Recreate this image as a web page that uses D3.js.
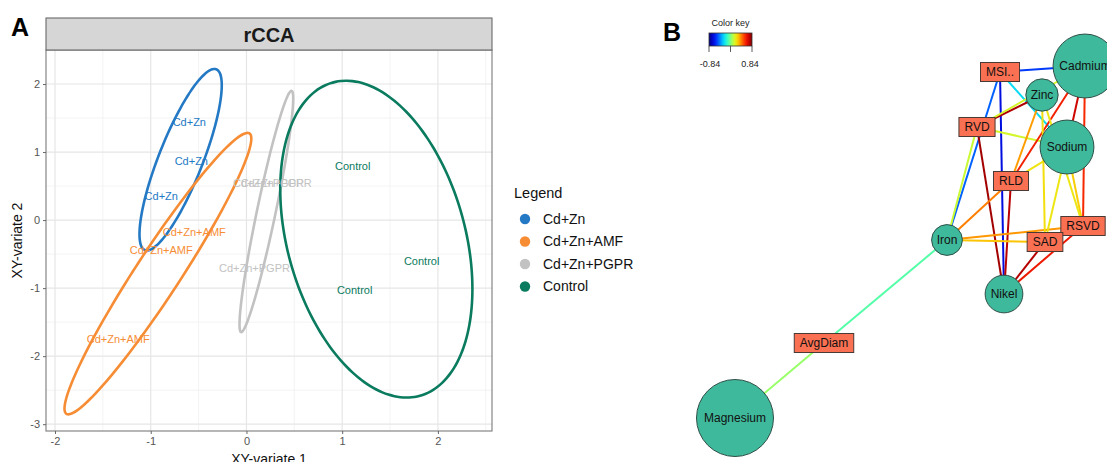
<!DOCTYPE html>
<html>
<head>
<meta charset="utf-8">
<script src="https://cdn.jsdelivr.net/npm/d3@7"></script>
<style>
  body { margin: 0; background: #fff; }
  svg { display: block; font-family: "Liberation Sans", Arial, sans-serif; }
</style>
</head>
<body>
<svg id="chart" width="1107" height="462"></svg>
<script>
// ---- panel A data (rCCA sample plot) ----
const groups = ["Cd+Zn", "Cd+Zn+AMF", "Cd+Zn+PGPR", "Control"];
const groupColors = ["#2479c5", "#f68d35", "#c2c2c2", "#0a7b5e"];
const sampleGroup = ["Cd+Zn", "Cd+Zn", "Cd+Zn",
  "Cd+Zn+AMF", "Cd+Zn+AMF", "Cd+Zn+AMF",
  "Cd+Zn+PGPR", "Cd+Zn+PGPR", "Cd+Zn+PGPR",
  "Control", "Control", "Control"];
const sampleX = [-0.597, -0.576, -0.89, -0.545, -0.89, -1.34, 0.23, 0.31, 0.084, 1.11, 1.83, 1.13];
const sampleY = [1.44, 0.87, 0.35, -0.17, -0.44, -1.75, 0.55, 0.54, -0.71, 0.79, -0.60, -1.03];
const xTicks = [-2, -1, 0, 1, 2];
const yTicks = [-3, -2, -1, 0, 1, 2];
const ellipseLevel = 0.95;

// ---- panel B data (relevance network) ----
const nodeNames = ["Cadmium", "Zinc", "Sodium", "Iron", "Nikel", "Magnesium",
  "MSI..", "RVD", "RLD", "RSVD", "SAD", "AvgDiam"];
const nodeType = ["X", "X", "X", "X", "X", "X", "Y", "Y", "Y", "Y", "Y", "Y"];
const nodeWeight = [0.83, 0.42, 0.70, 0.40, 0.49, 1.0, 0, 0, 0, 0, 0, 0];
// layout coordinates (0-100 layout space)
const layoutX = [96.25, 85.5, 91.75, 61.75, 76, 8.75, 75, 69.25, 77.75, 95.75, 86.25, 31];
const layoutY = [9, 16.25, 29.25, 52.5, 66, 97, 10.5, 24.25, 37.75, 49, 53, 78.25];
const edgeFrom = ["AvgDiam", "AvgDiam", "MSI..", "MSI..", "MSI..", "MSI..",
  "RVD", "RVD", "RVD", "RVD", "RVD",
  "RLD", "RLD", "RLD", "RLD", "RLD",
  "RSVD", "RSVD", "RSVD", "RSVD", "RSVD",
  "SAD", "SAD", "SAD", "SAD", "Cadmium"];
const edgeTo = ["Iron", "Magnesium", "Iron", "Cadmium", "Sodium", "Nikel",
  "Iron", "Zinc", "Cadmium", "Sodium", "Nikel",
  "Zinc", "Cadmium", "Sodium", "Iron", "Nikel",
  "Cadmium", "Sodium", "Zinc", "Iron", "Nikel",
  "Zinc", "Sodium", "Iron", "Nikel", "Sodium"];
const edgeValue = [-0.07, 0.04, -0.47, -0.54, -0.25, -0.66,
  0.13, 0.76, 0.15, 0.15, 0.78,
  0.37, 0.60, 0.23, 0.42, 0.74,
  0.58, 0.28, 0.22, 0.38, 0.62,
  0.24, 0.22, 0.30, 0.75, 0.70];
const keyRange = [-0.84, 0.84];

var svg = d3.select("#chart");

// ================= Panel A =================
const pLeft = 46, pRight = 492, pTop = 50, pBottom = 431;
var x = d3.scaleLinear().domain([-2.094, 2.565]).range([pLeft, pRight]);
var y = d3.scaleLinear().domain([-3.1, 2.5]).range([pBottom, pTop]);
var color = d3.scaleOrdinal().domain(groups).range(groupColors);

svg.append("text").text("A")
  .attr("x", 11).attr("y", 36)
  .attr("font-size", 25).attr("font-weight", "bold");

var panel = svg.append("g");
panel.append("rect")
  .attr("x", pLeft).attr("y", pTop).attr("width", pRight - pLeft).attr("height", pBottom - pTop)
  .attr("fill", "#fff");

// minor grid then major grid
var minorX = d3.range(-2.5, 3, 1).filter(v => x(v) > pLeft && x(v) < pRight);
var minorY = d3.range(-2.5, 3, 1).filter(v => y(v) < pBottom && y(v) > pTop);
panel.selectAll(".mgx").data(minorX).join("line")
  .attr("x1", d => x(d)).attr("x2", d => x(d)).attr("y1", pTop).attr("y2", pBottom)
  .attr("stroke", "#f0f0f0").attr("stroke-width", 0.8);
panel.selectAll(".mgy").data(minorY).join("line")
  .attr("y1", d => y(d)).attr("y2", d => y(d)).attr("x1", pLeft).attr("x2", pRight)
  .attr("stroke", "#f0f0f0").attr("stroke-width", 0.8);
panel.selectAll(".gx").data(xTicks).join("line")
  .attr("x1", d => x(d)).attr("x2", d => x(d)).attr("y1", pTop).attr("y2", pBottom)
  .attr("stroke", "#e6e6e6").attr("stroke-width", 1.2);
panel.selectAll(".gy").data(yTicks).join("line")
  .attr("y1", d => y(d)).attr("y2", d => y(d)).attr("x1", pLeft).attr("x2", pRight)
  .attr("stroke", "#e6e6e6").attr("stroke-width", 1.2);

// confidence ellipses (same as mixOmics: chi-square 95%, from the sample covariance)
const radius = Math.sqrt(-2 * Math.log(1 - ellipseLevel));
function ellipse(pts) {
  const n = pts.length;
  const mx = d3.mean(pts, p => p[0]), my = d3.mean(pts, p => p[1]);
  let sxx = 0, syy = 0, sxy = 0;
  pts.forEach(p => {
    sxx += (p[0] - mx) * (p[0] - mx);
    syy += (p[1] - my) * (p[1] - my);
    sxy += (p[0] - mx) * (p[1] - my);
  });
  sxx /= (n - 1); syy /= (n - 1); sxy /= (n - 1);
  // cholesky of the 2x2 covariance
  const a = Math.sqrt(sxx), b = sxy / a, c = Math.sqrt(Math.max(syy - b * b, 0));
  return d3.range(0, 100).map(i => {
    const t = i / 100 * 2 * Math.PI;
    const u = Math.cos(t) * radius, v = Math.sin(t) * radius;
    return [mx + a * u, my + b * u + c * v];
  });
}

var samples = sampleX.map((d, i) => ({ x: d, y: sampleY[i], group: sampleGroup[i] }));
var ellLine = d3.line().x(d => x(d[0])).y(d => y(d[1])).curve(d3.curveCardinalClosed);

var clip = svg.append("clipPath").attr("id", "clipA");
clip.append("rect").attr("x", pLeft).attr("y", pTop).attr("width", pRight - pLeft).attr("height", pBottom - pTop);

var plotG = panel.append("g").attr("clip-path", "url(#clipA)");
plotG.selectAll(".ell").data(groups).join("path")
  .attr("d", g => ellLine(ellipse(samples.filter(s => s.group === g).map(s => [s.x, s.y]))))
  .attr("fill", "none")
  .attr("stroke", g => color(g))
  .attr("stroke-width", 2.6);

plotG.selectAll(".lab").data(samples).join("text")
  .text(d => d.group)
  .attr("x", d => x(d.x)).attr("y", d => y(d.y))
  .attr("text-anchor", "middle").attr("dy", "0.35em")
  .attr("font-size", 11)
  .attr("fill", d => color(d.group));

// panel border
panel.append("rect")
  .attr("x", pLeft).attr("y", pTop).attr("width", pRight - pLeft).attr("height", pBottom - pTop)
  .attr("fill", "none").attr("stroke", "#7a7a7a").attr("stroke-width", 1.1);

// strip
svg.append("rect")
  .attr("x", pLeft).attr("y", 18).attr("width", pRight - pLeft).attr("height", pTop - 18)
  .attr("fill", "#d6d6d6").attr("stroke", "#6a6a6a").attr("stroke-width", 1.1);
svg.append("text").text("rCCA")
  .attr("x", (pLeft + pRight) / 2).attr("y", 35)
  .attr("text-anchor", "middle").attr("dy", "0.35em")
  .attr("font-size", 20).attr("font-weight", "bold").attr("fill", "#1a1a1a");

// axes
var xAxis = svg.append("g").attr("transform", "translate(0," + pBottom + ")")
  .call(d3.axisBottom(x).tickValues(xTicks).tickSize(3).tickPadding(3).tickFormat(d => String(d)));
var yAxis = svg.append("g").attr("transform", "translate(" + pLeft + ",0)")
  .call(d3.axisLeft(y).tickValues(yTicks).tickSize(3).tickPadding(3).tickFormat(d => String(d)));
[xAxis, yAxis].forEach(a => {
  a.select(".domain").remove();
  a.selectAll(".tick line").attr("stroke", "#666");
  a.selectAll(".tick text").attr("fill", "#555").attr("font-size", 11)
    .attr("font-family", "Liberation Sans, Arial, sans-serif");
});

svg.append("text").text("XY-variate 1")
  .attr("x", (pLeft + pRight) / 2).attr("y", 464)
  .attr("text-anchor", "middle").attr("font-size", 14).attr("fill", "#111");
svg.append("text").text("XY-variate 2")
  .attr("transform", "translate(22," + ((pTop + pBottom) / 2) + ") rotate(-90)")
  .attr("text-anchor", "middle").attr("font-size", 14).attr("fill", "#111");

// legend
var legend = svg.append("g").attr("transform", "translate(514,193)");
legend.append("text").text("Legend")
  .attr("x", 0).attr("y", 0).attr("dy", "0.35em")
  .attr("font-size", 14.5).attr("fill", "#111");
var li = legend.selectAll(".li").data(groups).join("g")
  .attr("transform", (d, i) => "translate(0," + (26 + i * 22.5) + ")");
li.append("circle").attr("cx", 11).attr("cy", 0).attr("r", 5.2).attr("fill", d => color(d));
li.append("text").text(d => d)
  .attr("x", 29).attr("y", 0).attr("dy", "0.35em")
  .attr("font-size", 14).attr("fill", "#111");

// ================= Panel B =================
svg.append("text").text("B")
  .attr("x", 663).attr("y", 41)
  .attr("font-size", 25).attr("font-weight", "bold");

var jet = d3.interpolateRgbBasis(["#00007F", "#0000FF", "#007FFF", "#00FFFF", "#7FFF7F",
  "#FFFF00", "#FF7F00", "#FF0000", "#7F0000"]);
var edgeColor = d3.scaleSequential(jet).domain(keyRange);

// color key
var key = svg.append("g");
var keyX = d3.scaleLinear().domain(keyRange).range([709, 752]);
var grad = svg.append("defs").append("linearGradient").attr("id", "keyGrad");
grad.selectAll("stop").data(d3.range(0, 1.001, 0.05)).join("stop")
  .attr("offset", d => d)
  .attr("stop-color", d => jet(d));
key.append("text").text("Color key")
  .attr("x", (keyX.range()[0] + keyX.range()[1]) / 2).attr("y", 23).attr("dy", "0.35em")
  .attr("text-anchor", "middle").attr("font-size", 9).attr("fill", "#222");
key.append("rect")
  .attr("x", keyX.range()[0]).attr("y", 33)
  .attr("width", keyX.range()[1] - keyX.range()[0]).attr("height", 13)
  .attr("fill", "url(#keyGrad)").attr("stroke", "#333").attr("stroke-width", 0.8);
key.selectAll(".kt").data([keyRange[0], 0, keyRange[1]]).join("line")
  .attr("x1", d => keyX(d)).attr("x2", d => keyX(d)).attr("y1", 46).attr("y2", 52)
  .attr("stroke", "#333").attr("stroke-width", 0.8);
key.selectAll(".kl").data(keyRange).join("text")
  .text(d => d.toFixed(2))
  .attr("x", d => keyX(d) + (d < 0 ? 1 : -2)).attr("y", 64).attr("dy", "0.35em")
  .attr("text-anchor", "middle").attr("font-size", 9).attr("fill", "#222");

// network
var bx = d3.scaleLinear().domain([0, 100]).range([700, 1100]);
var by = d3.scaleLinear().domain([0, 100]).range([30, 430]);
var rScale = d3.scaleLinear().domain([0, 1]).range([0, 38.5]);

var nodes = nodeNames.map((n, i) => ({ name: n, type: nodeType[i], w: nodeWeight[i], lx: layoutX[i], ly: layoutY[i] }));
var byName = {};
nodes.forEach(n => byName[n.name] = n);
var links = edgeFrom.map((s, i) => ({ source: byName[s], target: byName[edgeTo[i]], value: edgeValue[i] }));

svg.append("g").selectAll("line").data(links).join("line")
  .attr("x1", d => bx(d.source.lx)).attr("y1", d => by(d.source.ly))
  .attr("x2", d => bx(d.target.lx)).attr("y2", d => by(d.target.ly))
  .attr("stroke", d => edgeColor(d.value))
  .attr("stroke-width", 2);

var nodeG = svg.append("g").selectAll("g").data(nodes).join("g")
  .attr("transform", d => "translate(" + bx(d.lx) + "," + by(d.ly) + ")");

nodeG.filter(d => d.type === "X").append("circle")
  .attr("r", d => rScale(d.w))
  .attr("fill", "#3fb99b").attr("stroke", "#2f4f47").attr("stroke-width", 1);

nodeG.append("text").text(d => d.name)
  .attr("text-anchor", "middle").attr("dy", "0.36em")
  .attr("font-size", 12).attr("fill", "#111");

// rectangles for the Y variables, sized by their label
nodeG.filter(d => d.type === "Y").each(function () {
  var g = d3.select(this);
  var w = g.select("text").node().getComputedTextLength() + 11;
  g.insert("rect", "text")
    .attr("x", -w / 2).attr("y", -9.5).attr("width", w).attr("height", 19)
    .attr("fill", "#fa7052").attr("stroke", "#4a3a36").attr("stroke-width", 1);
});
</script>
</body>
</html>
